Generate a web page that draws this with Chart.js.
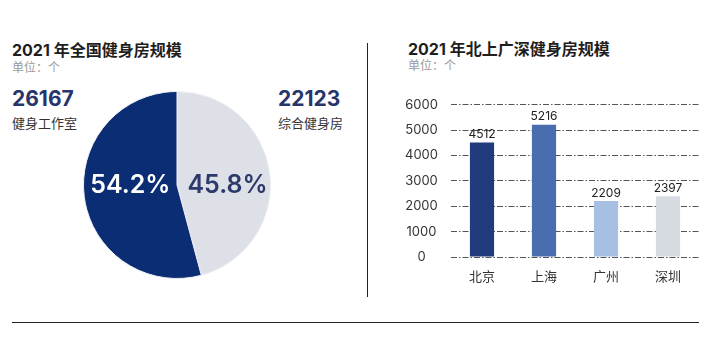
<!DOCTYPE html>
<html>
<head>
<meta charset="utf-8">
<script src="https://cdn.jsdelivr.net/npm/chart.js@4/dist/chart.umd.min.js"></script>
<style>
  body { margin: 0; background: #fff; font-family: Inter, "Noto Sans CJK SC", sans-serif; }
  #wrap { position: relative; width: 718px; height: 338px; overflow: hidden; }
  .t { position: absolute; white-space: nowrap; }
  .h { font-size: 16px; font-weight: 700; color: #1e1e1e; }
  .u { font-size: 12px; color: #9a9a9a; }
  .num { font-size: 21px; font-weight: 700; color: #27356a; }
  .lab { font-size: 13px; color: #333; }
  #vline { position: absolute; left: 367px; top: 43px; width: 1px; height: 254px; background: #222; }
  #hline { position: absolute; left: 12px; top: 322px; width: 687px; height: 1px; background: #222; }
</style>
</head>
<body>
<div id="wrap">
  <div class="t h" style="left:12px;top:37px">2021 年全国健身房规模</div>
  <div class="t u" style="left:12px;top:58px">单位：个</div>
  <div class="t num" style="left:12px;top:86px" id="n1"></div>
  <div class="t lab" style="left:12px;top:113px" id="l1"></div>
  <div class="t num" style="left:278px;top:86px" id="n2"></div>
  <div class="t lab" style="left:278px;top:113px" id="l2"></div>

  <div class="t h" style="left:408px;top:36px">2021 年北上广深健身房规模</div>
  <div class="t u" style="left:408px;top:56px">单位：个</div>

  <canvas id="pie" width="188" height="188" style="position:absolute;left:83px;top:91px"></canvas>
  <canvas id="bar" width="300" height="206" style="position:absolute;left:400px;top:84px"></canvas>

  <div id="vline"></div>
  <div id="hline"></div>
</div>

<script>
// 全国：健身工作室 / 综合健身房
var gymTypes = ["健身工作室", "综合健身房"];
var gymCounts = [26167, 22123];
var gymShares = [54.2, 45.8];

// 北上广深
var cities = ["北京", "上海", "广州", "深圳"];
var cityCounts = [4512, 5216, 2209, 2397];
var cityColors = ["#213b7c", "#4a6daf", "#a6bfe2", "#d6dae1"];

var fontFamily = 'Inter, "Noto Sans CJK SC", sans-serif';

document.getElementById("n1").textContent = gymCounts[0];
document.getElementById("l1").textContent = gymTypes[0];
document.getElementById("n2").textContent = gymCounts[1];
document.getElementById("l2").textContent = gymTypes[1];

// 饼图百分比：左右各一个
var pieLabels = {
	id: "pieLabels",
	afterDatasetsDraw: function(chart) {
		var ctx = chart.ctx,
			arc = chart.getDatasetMeta(0).data[0],
			r = arc.outerRadius;
		ctx.save();
		ctx.font = "600 25px " + fontFamily;
		ctx.textAlign = "center";
		ctx.textBaseline = "middle";
		ctx.fillStyle = "#ffffff";
		ctx.fillText(gymShares[0].toFixed(1) + "%", arc.x - r * 0.5, arc.y);
		ctx.fillStyle = "#2b396b";
		ctx.fillText(gymShares[1].toFixed(1) + "%", arc.x + r * 0.54, arc.y);
		ctx.restore();
	}
};

new Chart(document.getElementById("pie").getContext("2d"), {
	type: "pie",
	data: {
		labels: [gymTypes[1], gymTypes[0]],
		datasets: [{
			data: [gymCounts[1], gymCounts[0]],
			backgroundColor: ["#dde0e7", "#0b2d74"],
			borderColor: "#eef0f4",
			borderWidth: 1
		}]
	},
	options: {
		responsive: false,
		animation: false,
		plugins: { legend: { display: false }, tooltip: { enabled: false } }
	},
	plugins: [pieLabels]
});

// 柱子上方数值
var barValues = {
	id: "barValues",
	afterDatasetsDraw: function(chart) {
		var ctx = chart.ctx;
		ctx.save();
		ctx.font = "12px " + fontFamily;
		ctx.fillStyle = "#222";
		ctx.textAlign = "center";
		ctx.textBaseline = "bottom";
		chart.getDatasetMeta(0).data.forEach(function(bar, i) {
			ctx.fillText(cityCounts[i], bar.x, bar.y - 2);
		});
		ctx.restore();
	}
};

new Chart(document.getElementById("bar").getContext("2d"), {
	type: "bar",
	data: {
		labels: cities,
		datasets: [{
			data: cityCounts,
			backgroundColor: cityColors,
			barPercentage: 0.39,
			categoryPercentage: 1
		}]
	},
	options: {
		responsive: false,
		animation: false,
		layout: { padding: { top: 6, right: 1, bottom: 4 } },
		plugins: { legend: { display: false }, tooltip: { enabled: false } },
		scales: {
			x: {
				afterFit: function(scale) { scale.height = 29; },
				grid: { display: false, drawTicks: false },
				border: { display: false },
				ticks: { padding: 12, color: "#333", font: { size: 13, family: fontFamily } }
			},
			y: {
				min: 0,
				max: 6000,
				afterFit: function(scale) { scale.width = 51; },
				grid: { color: "#555", lineWidth: 1, drawTicks: false },
				border: { display: false, dash: [6, 2, 1.5, 2] },
				ticks: {
					stepSize: 1000,
					padding: 13,
					crossAlign: "center",
					color: "#333",
					font: { size: 13, family: fontFamily },
					callback: function(v) { return String(v); }
				}
			}
		}
	},
	plugins: [barValues]
});
</script>
</body>
</html>
